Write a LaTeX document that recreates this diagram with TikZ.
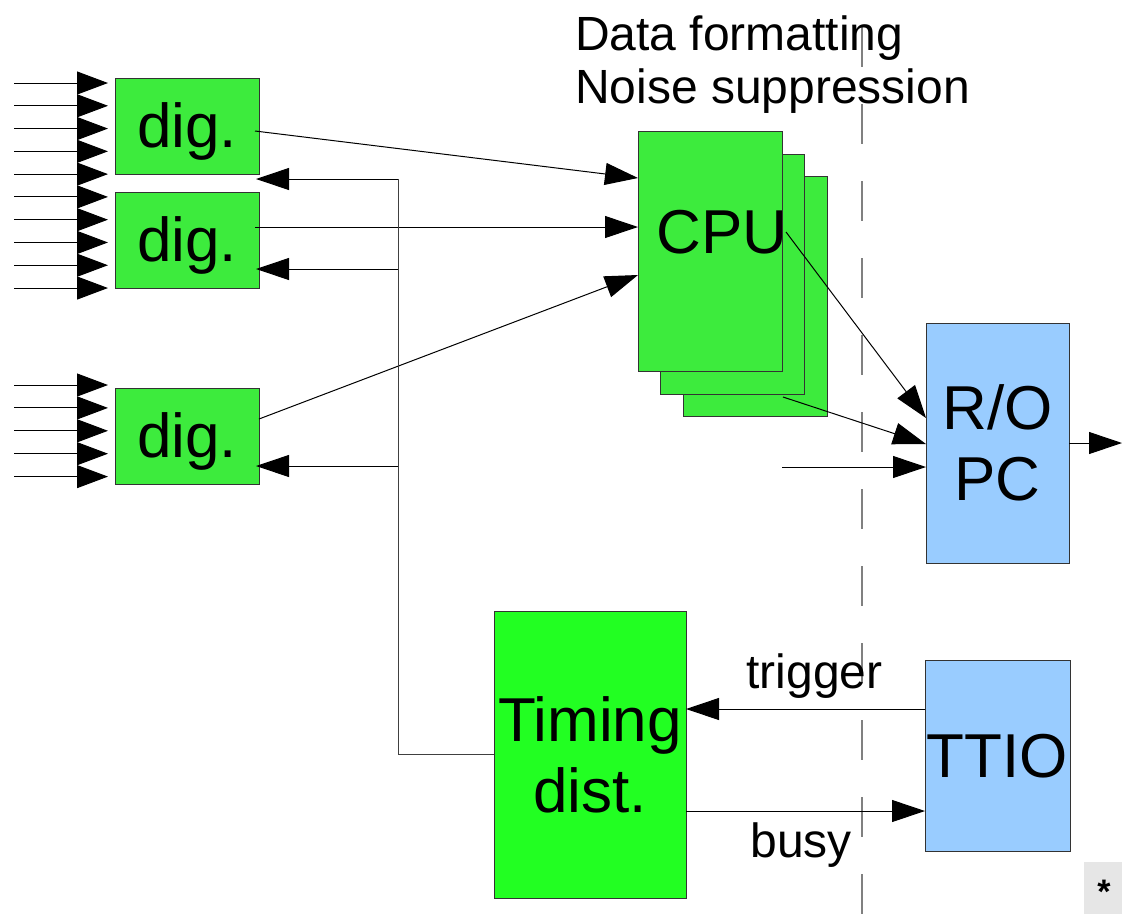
\documentclass[tikz,border=0pt]{standalone}
\usepackage{fontspec}
\setmainfont{Liberation Sans}
\usetikzlibrary{arrows.meta,calc}
\definecolor{digG}{RGB}{61,235,61}
\definecolor{timG}{RGB}{34,255,34}
\definecolor{pcB}{RGB}{153,204,255}
\definecolor{starG}{RGB}{230,230,230}
\tikzset{
  box/.style={draw=black!80, line width=1pt, inner sep=0pt, outer sep=0pt},
  bigtxt/.style={font=\fontsize{62}{71}\selectfont},
  smalltxt/.style={font=\fontsize{48}{53}\selectfont},
  onetxt/.style={text height=56pt, text depth=13pt},
  conn/.style={line width=1pt, draw=black},
  arr/.style={conn, -{Triangle[length=33pt,width=22pt]}},
  inarr/.style={conn, -{Triangle[length=31pt,width=23pt]}},
  sep/.style={line width=1.3pt, draw=black!50, dash pattern=on 40pt off 37pt},
}
\begin{document}
\begin{tikzpicture}[x=1pt,y=-1pt]
\useasboundingbox (0,0) rectangle (1122,914);

% separator
\draw[sep] (862,27) -- (862,914);

% digitizers
\node[box, fill=digG, minimum width=144pt, minimum height=96pt, bigtxt, onetxt] (dig1) at (187,126) {dig.};
\node[box, fill=digG, minimum width=144pt, minimum height=96pt, bigtxt, onetxt] (dig2) at (187,240) {dig.};
\node[box, fill=digG, minimum width=144pt, minimum height=96pt, bigtxt, onetxt] (dig3) at (187,436) {dig.};

% CPU stack
\node[box, fill=digG, minimum width=144pt, minimum height=240pt] (cpu3) at (755,296.5) {};
\node[box, fill=digG, minimum width=144pt, minimum height=240pt] (cpu2) at (732.5,274) {};
\node[box, fill=digG, minimum width=144pt, minimum height=240pt] (cpu1) at (710,251) {};
\node[bigtxt, anchor=base, inner sep=0pt] (cputxt) at ($(cpu1.center)+(12,2)$) {CPU};

% R/O PC
\node[box, fill=pcB, minimum width=143pt, minimum height=240pt, bigtxt, align=center] (ropc) at (997.5,443) {R/O\\PC};

% TTIO
\node[box, fill=pcB, minimum width=145pt, minimum height=191pt, bigtxt, onetxt] (ttio) at (997.5,755.5) {TTIO};

% Timing distribution
\node[box, fill=timG, minimum width=192pt, minimum height=287pt, bigtxt, align=center] (timing) at (590,754.5) {Timing\\dist.};

% top text
\node[smalltxt, anchor=base west, inner sep=0pt] (t1) at (575,50) {Data formatting};
\node[smalltxt, anchor=base west, inner sep=0pt] (t2) at (575,103) {Noise suppression};

% input arrows
\foreach \i in {0,...,9}
  \draw[inarr] ($(dig1.west)+(-101,{-43+\i*22.78})$) -- ($(dig1.west)+(-7,{-43+\i*22.78})$);
\foreach \i in {0,...,4}
  \draw[inarr] ($(dig3.west)+(-101,{-51+\i*22.9})$) -- ($(dig3.west)+(-7,{-51+\i*22.9})$);

% dig -> CPU
\draw[arr] ($(dig1.east)+(-4,5)$) -- ($(cpu1.west)+(0,-73)$);
\draw[arr] ($(dig2.east)+(-4,-13)$) -- ($(cpu1.west)+(0,-24)$);
\draw[arr] ($(dig3.east)+(0,-17)$) -- ($(cpu1.west)+(0,24)$);

% timing bus
\coordinate (bustop) at (398,179);
\coordinate (bus2) at (398,269);
\coordinate (bus3) at (398,466);
\coordinate (busbot) at (398,754.5);
\draw[conn, draw=black!75] (timing.west) -- (busbot) -- (bustop);
\draw[arr] (bustop) -- ($(dig1.south east)+(-3,5)$);
\draw[arr] (bus2) -- ($(dig2.east)+(-3,29)$);
\draw[arr] (bus3) -- ($(dig3.east)+(-3,30)$);

% CPU -> R/O
\coordinate (c1) at (786,232);
\coordinate (c2) at (783,397);
\coordinate (c3) at (782,467);
\draw[arr] (c1) -- ($(ropc.west)+(0,-25)$);
\draw[arr] (c2) -- ($(ropc.west)+(0,1)$);
\draw[arr] (c3) -- ($(ropc.west)+(0,24)$);
\coordinate (out) at (1122,443);
\draw[arr] (ropc.east) -- (out);

% trigger / busy
\draw[arr] ($(ttio.west)+(0,-46.5)$) -- ($(timing.east)+(0,-45.5)$);
\draw[arr] ($(timing.east)+(0,56.5)$) -- ($(ttio.west)+(0,55.5)$);
\node[smalltxt, anchor=base, inner sep=0pt] (trig) at (814.5,688) {trigger};
\node[smalltxt, anchor=base, inner sep=0pt] (busy) at (801,857) {busy};

% star box
\node[fill=starG, minimum width=39pt, minimum height=52pt, inner sep=0pt] (starbox) at (1103.5,888) {};
\node[font=\fontsize{34}{40}\selectfont\bfseries, inner sep=0pt] (star) at (1104,892) {*};
\end{tikzpicture}
\end{document}
